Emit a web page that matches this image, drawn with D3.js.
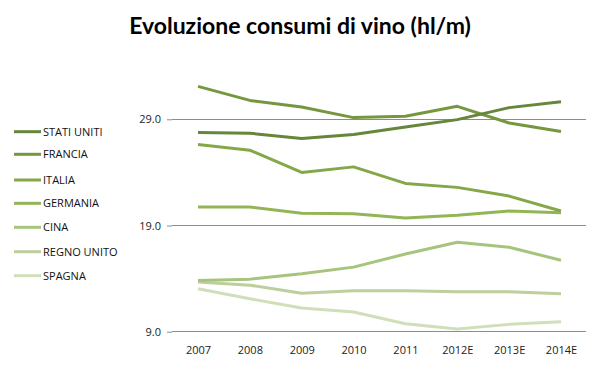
<!DOCTYPE html>
<html><head><meta charset="utf-8">
<script src="https://cdn.jsdelivr.net/npm/d3@7"></script>
<style>body{margin:0;background:#fff;} svg{display:block;}</style>
</head><body>
<svg id="c" width="601" height="366"></svg>
<script>
const categories = ["2007","2008","2009","2010","2011","2012E","2013E","2014E"];
const seriesNames = ["STATI UNITI","FRANCIA","ITALIA","GERMANIA","CINA","REGNO UNITO","SPAGNA"];
const statiUniti = [27.75,27.69,27.19,27.56,28.28,28.97,30.10,30.66];
const francia    = [32.10,30.78,30.15,29.16,29.28,30.22,28.65,27.85];
const italia     = [26.62,26.09,24.00,24.52,22.96,22.59,21.77,20.36];
const germania   = [20.74,20.74,20.15,20.11,19.70,19.96,20.36,20.20];
const cina       = [13.82,13.95,14.45,15.08,16.32,17.42,16.95,15.73];
const regnoUnito = [13.69,13.38,12.63,12.85,12.85,12.76,12.76,12.57];
const spagna     = [13.04,12.10,11.23,10.85,9.75,9.25,9.69,9.94];
const yTicks = [9,19,29];
const title = "Evoluzione consumi di vino (hl/m)";

const colors = ["#66863a","#76963f","#85a749","#93b556","#a7c47e","#bccf9d","#d1deba"];
const values = [statiUniti,francia,italia,germania,cina,regnoUnito,spagna];

const svg = d3.select("#c");
const font = "'Open Sans', 'DejaVu Sans', sans-serif";

const x = d3.scalePoint().domain(categories).range([198,561]);
const y = d3.scaleLinear().domain([9,29]).range([331.7,119.3]);

svg.append("text").attr("x",300).attr("y",34).attr("text-anchor","middle")
  .style("font-family","Lato, 'Open Sans', sans-serif").style("font-weight","bold").style("font-size","23px")
  .attr("fill","#000").text(title);

const yAxis = d3.axisLeft(y).tickValues(yTicks).tickFormat(d3.format(".1f")).tickSize(5).tickPadding(5);
const ga = svg.append("g").attr("transform","translate(172,0)").call(yAxis);
ga.select(".domain").remove();
ga.selectAll("line").attr("stroke","#8c8c8c");
ga.selectAll("text").style("font-family",font).style("font-size","11px").attr("fill","#222").attr("dx","-1");
svg.append("g").selectAll("line").data(yTicks).join("line")
  .attr("x1",172).attr("x2",586).attr("y1",d=>y(d)).attr("y2",d=>y(d))
  .attr("stroke","#8c8c8c").attr("stroke-width",1).attr("shape-rendering","crispEdges");

const xAxis = d3.axisBottom(x).tickSize(0).tickPadding(14);
const gx = svg.append("g").attr("transform","translate(0,340)").call(xAxis);
gx.select(".domain").remove();
gx.selectAll("text").style("font-family",font).style("font-size","11px").attr("fill","#222").attr("dy","0");

const line = d3.line().x((d,i)=>x(categories[i])).y(d=>y(d));
for (let s = values.length-1; s >= 0; s--) {
  svg.append("path").datum(values[s]).attr("d",line).attr("fill","none")
    .attr("stroke",colors[s]).attr("stroke-width",3).attr("stroke-linejoin","round");
}

const legY = [131.7,154.3,180,203.3,227.3,251.7,275.7];
const lg = svg.append("g").selectAll("g").data(seriesNames).join("g")
  .attr("transform",(d,i)=>`translate(0,${legY[i]})`);
lg.append("line").attr("x1",14).attr("x2",41).attr("y1",0).attr("y2",0)
  .attr("stroke",(d,i)=>colors[i]).attr("stroke-width",3);
lg.append("text").attr("x",43).attr("y",4).text(d=>d)
  .style("font-family",font).style("font-size","11px").attr("fill","#111");
</script>
</body></html>
